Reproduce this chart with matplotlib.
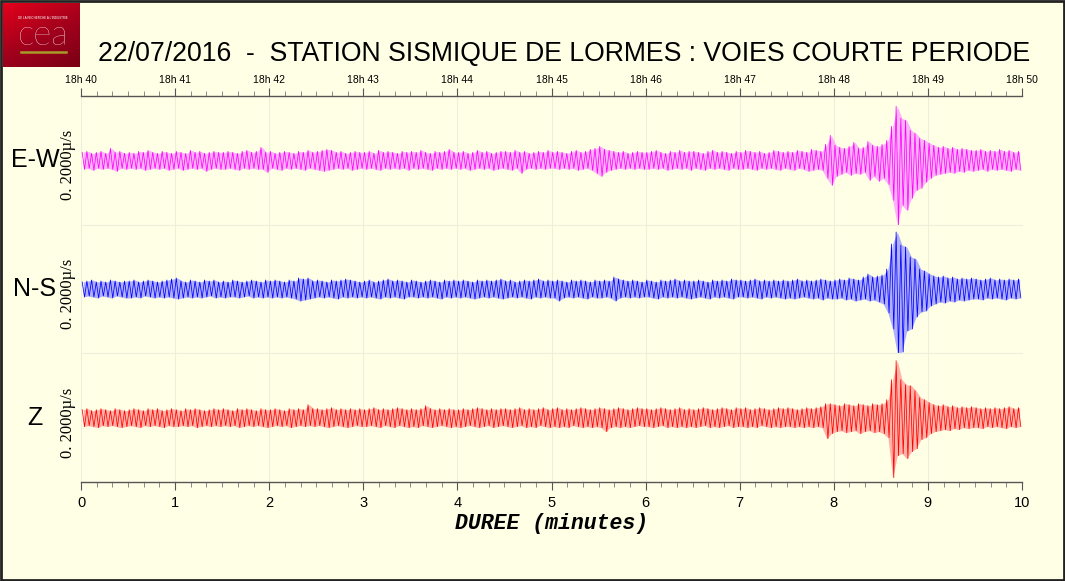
import numpy as np
import matplotlib
matplotlib.use("Agg")
import matplotlib.pyplot as plt
from matplotlib.patches import Rectangle

# ---------------- data ----------------
# Seismogram decimated to min/max per 0.05-minute bin (amplitude units: panel half-height = 64.35)
BIN = 0.05  # minutes
channels = ["E-W", "N-S", "Z"]
colors = ["#FF00FF", "#0000FF", "#FF0000"]
pale_colors = ["#FBB4F7", "#B0B0FA", "#FFB4AA"]
scale_label = "0. 2000µ/s"
top_tick_labels = ["18h 40", "18h 41", "18h 42", "18h 43", "18h 44", "18h 45",
                   "18h 46", "18h 47", "18h 48", "18h 49", "18h 50"]
bottom_ticks = [0, 1, 2, 3, 4, 5, 6, 7, 8, 9, 10]

ew_max = [
    8, 9, 7, 8, 9, 7, 12, 8, 9, 7,
    8, 7, 9, 8, 10, 8, 7, 9, 8, 7,
    9, 8, 7, 10, 8, 9, 7, 8, 9, 8,
    8, 9, 8, 7, 9, 10, 8, 9, 13, 8,
    9, 7, 8, 9, 8, 7, 9, 8, 10, 8,
    9, 10, 11, 10, 8, 9, 7, 8, 9, 8,
    8, 9, 7, 10, 8, 9, 8, 7, 9, 8,
    9, 8, 10, 8, 7, 9, 8, 9, 11, 8,
    8, 9, 7, 8, 10, 8, 9, 7, 8, 9,
    9, 8, 10, 8, 9, 7, 8, 9, 8, 10,
    8, 9, 8, 7, 9, 10, 8, 9, 11, 12,
    14, 11, 10, 9, 8, 9, 7, 8, 9, 8,
    8, 9, 10, 8, 7, 9, 8, 10, 8, 9,
    9, 8, 7, 9, 10, 8, 9, 8, 7, 9,
    8, 10, 9, 8, 9, 7, 8, 10, 9, 8,
    9, 8, 10, 9, 8, 11, 10, 9, 16, 25,
    15, 13, 12, 14, 18, 12, 13, 19, 15, 14,
    16, 20, 34, 54, 42, 40, 30, 27, 22, 20,
    17, 15, 13, 14, 12, 13, 11, 12, 11, 10,
    10, 11, 9, 10, 9, 11, 9, 10, 8, 9,
]
ew_min = [
    9, 8, 10, 8, 9, 8, 9, 11, 8, 9,
    8, 9, 8, 10, 9, 8, 9, 8, 10, 9,
    8, 10, 9, 8, 9, 8, 11, 9, 8, 9,
    9, 8, 9, 10, 8, 9, 8, 9, 9, 12,
    8, 9, 10, 8, 9, 8, 9, 10, 8, 9,
    10, 11, 10, 9, 8, 9, 8, 10, 9, 8,
    9, 8, 9, 10, 8, 9, 8, 9, 8, 10,
    8, 9, 8, 9, 10, 8, 9, 8, 9, 8,
    9, 8, 10, 9, 8, 9, 8, 10, 9, 8,
    9, 10, 8, 13, 9, 8, 9, 8, 9, 8,
    8, 9, 8, 9, 8, 10, 9, 8, 10, 13,
    16, 12, 10, 9, 8, 9, 8, 9, 8, 9,
    9, 8, 9, 8, 10, 9, 8, 9, 8, 10,
    8, 9, 10, 8, 9, 8, 9, 10, 8, 9,
    9, 8, 9, 10, 8, 9, 8, 9, 10, 8,
    9, 10, 8, 9, 11, 10, 9, 10, 18, 25,
    16, 14, 12, 15, 13, 14, 12, 20, 16, 21,
    18, 24, 40, 65, 45, 50, 38, 30, 28, 22,
    18, 15, 14, 13, 12, 13, 11, 12, 10, 11,
    10, 9, 11, 9, 10, 9, 10, 11, 9, 10,
]
ns_max = [
    7, 8, 9, 7, 8, 7, 9, 8, 7, 8,
    8, 9, 7, 8, 9, 8, 7, 8, 9, 10,
    11, 8, 7, 9, 8, 7, 9, 8, 9, 7,
    8, 7, 9, 8, 7, 8, 9, 8, 7, 9,
    8, 9, 8, 7, 9, 8, 11, 10, 11, 8,
    9, 8, 7, 9, 8, 9, 10, 9, 8, 7,
    8, 9, 7, 8, 9, 10, 8, 9, 8, 7,
    9, 8, 7, 8, 9, 8, 7, 9, 8, 9,
    8, 9, 8, 7, 9, 8, 9, 8, 9, 10,
    8, 9, 7, 8, 9, 8, 9, 10, 8, 9,
    8, 9, 8, 7, 9, 8, 9, 8, 7, 9,
    8, 9, 8, 12, 10, 9, 8, 9, 8, 7,
    9, 8, 7, 9, 8, 9, 10, 8, 9, 8,
    8, 9, 8, 7, 9, 8, 9, 8, 10, 9,
    9, 8, 9, 10, 8, 9, 8, 9, 8, 9,
    8, 9, 10, 8, 9, 8, 9, 10, 9, 8,
    9, 10, 9, 11, 10, 9, 12, 15, 12, 13,
    14, 20, 45, 57, 44, 42, 32, 30, 20, 18,
    15, 13, 12, 13, 11, 12, 10, 11, 10, 11,
    10, 9, 10, 11, 9, 10, 9, 10, 9, 10,
]
ns_min = [
    8, 7, 8, 9, 7, 8, 9, 7, 8, 9,
    9, 8, 9, 7, 8, 9, 8, 9, 8, 9,
    10, 9, 8, 9, 8, 9, 8, 7, 9, 8,
    9, 8, 8, 9, 8, 7, 9, 8, 9, 8,
    9, 8, 9, 8, 9, 10, 12, 11, 10, 9,
    8, 9, 8, 9, 10, 8, 9, 8, 9, 8,
    9, 8, 9, 10, 8, 9, 8, 9, 10, 8,
    8, 9, 8, 9, 8, 9, 10, 8, 9, 8,
    9, 8, 9, 10, 9, 8, 9, 8, 9, 10,
    9, 8, 9, 8, 9, 10, 8, 9, 8, 9,
    9, 12, 9, 8, 9, 8, 9, 10, 8, 9,
    9, 8, 9, 12, 9, 8, 9, 8, 9, 8,
    8, 9, 10, 8, 9, 8, 9, 8, 9, 10,
    9, 8, 9, 10, 8, 9, 8, 9, 10, 8,
    8, 9, 8, 9, 10, 8, 9, 8, 9, 10,
    9, 10, 9, 8, 9, 10, 9, 11, 9, 10,
    10, 9, 11, 10, 12, 11, 10, 12, 11, 13,
    15, 24, 40, 65, 63, 42, 40, 28, 23, 22,
    17, 15, 13, 14, 12, 13, 11, 12, 11, 10,
    10, 11, 9, 10, 9, 10, 11, 9, 10, 9,
]
z_max = [
    8, 9, 7, 8, 9, 8, 7, 9, 8, 7,
    8, 9, 8, 7, 9, 8, 9, 7, 8, 9,
    8, 7, 9, 8, 9, 8, 7, 8, 9, 8,
    9, 8, 7, 9, 8, 9, 8, 7, 9, 8,
    8, 9, 8, 7, 9, 8, 9, 8, 13, 9,
    9, 8, 9, 10, 8, 9, 8, 9, 8, 9,
    8, 9, 10, 8, 9, 8, 9, 10, 9, 8,
    9, 8, 9, 12, 9, 8, 9, 8, 9, 8,
    8, 9, 8, 9, 10, 9, 8, 9, 8, 9,
    9, 8, 9, 10, 8, 9, 8, 9, 10, 8,
    9, 10, 8, 9, 8, 9, 10, 9, 8, 9,
    10, 9, 8, 9, 10, 9, 8, 9, 10, 9,
    9, 8, 9, 10, 9, 8, 9, 10, 8, 9,
    8, 9, 10, 9, 8, 9, 10, 9, 8, 10,
    9, 10, 8, 9, 10, 9, 8, 9, 10, 9,
    10, 9, 8, 9, 10, 9, 10, 11, 14, 14,
    13, 12, 14, 13, 12, 14, 13, 12, 14, 13,
    14, 18, 38, 57, 38, 33, 32, 27, 20, 18,
    15, 13, 12, 13, 11, 12, 10, 11, 10, 11,
    10, 9, 10, 9, 10, 9, 10, 11, 9, 10,
]
z_min = [
    9, 8, 9, 10, 8, 9, 8, 9, 10, 9,
    8, 9, 10, 8, 9, 8, 9, 10, 8, 9,
    9, 8, 9, 8, 10, 9, 8, 9, 8, 9,
    8, 9, 8, 10, 9, 8, 9, 8, 9, 10,
    9, 8, 9, 8, 10, 9, 8, 9, 8, 9,
    8, 9, 10, 9, 8, 9, 10, 9, 8, 9,
    9, 8, 9, 10, 8, 9, 10, 8, 9, 10,
    9, 10, 8, 9, 10, 9, 8, 9, 10, 9,
    10, 9, 8, 9, 10, 9, 8, 10, 9, 8,
    9, 10, 9, 8, 10, 9, 10, 8, 9, 10,
    9, 10, 9, 10, 8, 9, 10, 9, 10, 9,
    10, 14, 10, 9, 10, 9, 10, 9, 8, 9,
    9, 10, 9, 8, 10, 9, 10, 9, 10, 9,
    10, 9, 8, 10, 9, 10, 9, 8, 10, 9,
    9, 10, 9, 10, 8, 9, 10, 9, 10, 9,
    9, 10, 9, 10, 9, 10, 9, 10, 21, 16,
    14, 13, 15, 14, 13, 16, 14, 13, 15, 14,
    16, 20, 60, 38, 36, 41, 34, 31, 22, 20,
    16, 14, 13, 12, 13, 11, 12, 10, 11, 10,
    10, 11, 9, 10, 9, 10, 11, 9, 10, 9,
]
series_max = [ew_max, ns_max, z_max]
series_min = [ew_min, ns_min, z_min]

# ---------------- figure ----------------
BG = "#FFFFE6"
W, H = 1065, 581
fig = plt.figure(figsize=(W / 100, H / 100), dpi=100, facecolor=BG)
plt.rcParams["font.family"] = ["Liberation Sans", "DejaVu Sans"]

left, right = 81 / W, 1022 / W
top, bottom = 1 - 96 / H, 1 - 482 / H
ph = (top - bottom) / 3
HALF = 64.35

axes = []
for i in range(3):
    ax = fig.add_axes([left, top - (i + 1) * ph, right - left, ph])
    ax.set_facecolor(BG)
    axes.append(ax)

for i, ax in enumerate(axes):
    up = np.asarray(series_max[i], dtype=float)
    lo = np.asarray(series_min[i], dtype=float)
    n = min(len(up), len(lo))
    up, lo = up[:n], lo[:n]
    t0 = np.arange(n) * BIN
    xs = np.empty(2 * n)
    ys = np.empty(2 * n)
    xs[0::2] = t0 + BIN * 0.25
    xs[1::2] = t0 + BIN * 0.75
    ys[0::2] = up
    ys[1::2] = -lo
    # pale envelope joining the extremes of each bin
    ax.fill_between(t0 + BIN * 0.5, -lo, up, color=pale_colors[i], lw=0, zorder=2)
    # full-colour trace through the extremes
    ax.plot(xs, ys, color=colors[i], lw=0.55, zorder=3)
    ax.set_xlim(0, 10)
    ax.set_ylim(-HALF, HALF)
    ax.set_yticks([])
    ax.grid(axis="x", which="major", color="#EEEEDC", lw=0.8)
    ax.set_axisbelow(True)
    for s in ["left", "right"]:
        ax.spines[s].set_visible(False)
    ax.spines["top"].set_color("#EEEEDC")
    ax.spines["bottom"].set_color("#EEEEDC")
    ax.set_xticks(bottom_ticks)
    ax.set_xticks(np.arange(61) / 6, minor=True)
    ax.tick_params(axis="x", which="both", length=0, labelbottom=False)

    # channel labels
    yc = top - (i + 0.5) * ph
    fig.text(35 / W, yc, channels[i], fontsize=18, ha="center", va="center")
    fig.text(68 / W, yc - 5 / H, scale_label, rotation=90, fontsize=12,
             family=["Liberation Serif", "DejaVu Serif"], ha="center", va="center")

# top axis
ax0 = axes[0]
ax0.spines["top"].set_color("#555555")
ax0.spines["top"].set_linewidth(1.0)
ax0.xaxis.set_ticks_position("top")
ax0.tick_params(axis="x", which="major", length=6, width=0.8, color="#555555",
                labeltop=True, labelbottom=False, labelsize=7.5, pad=2)
ax0.tick_params(axis="x", which="minor", length=3.5, width=0.6, color="#777777")
ax0.set_xticklabels(top_tick_labels)

# bottom axis
ax2 = axes[2]
ax2.spines["bottom"].set_color("#555555")
ax2.spines["bottom"].set_linewidth(1.0)
ax2.xaxis.set_ticks_position("bottom")
ax2.tick_params(axis="x", which="major", length=6, width=0.8, color="#555555",
                labelbottom=True, labelsize=10.5, pad=4)
ax2.tick_params(axis="x", which="minor", length=3.5, width=0.6, color="#777777")
ax2.set_xticklabels([str(v) for v in bottom_ticks])
ax2.set_xlabel("DUREE (minutes)", family=["Liberation Mono", "DejaVu Sans Mono"],
               fontsize=15.5, fontweight="bold", fontstyle="italic", labelpad=2)

# title
fig.text(564 / W, 1 - 54 / H, "22/07/2016  -  STATION SISMIQUE DE LORMES : VOIES COURTE PERIODE",
         fontsize=19.2, ha="center", va="center")

# CEA logo
lax = fig.add_axes([3 / W, 1 - 67 / H, 77 / W, 64 / H])
grad = np.linspace(0, 1, 64)[:, None] * np.ones((1, 77))
grad = grad + np.linspace(0, 0.6, 77)[None, :]
lax.imshow(grad, cmap=matplotlib.colors.LinearSegmentedColormap.from_list(
    "cea", ["#E3001B", "#A4001C", "#7A0015"]), aspect="auto", extent=[0, 1, 0, 1])
lax.text(0.52, 0.5, "cea", color="white", fontsize=25, ha="center", va="center",
         family=["Lato", "DejaVu Sans"], fontweight="light", transform=lax.transAxes)
lax.plot([0.24, 0.82], [0.23, 0.23], color="#A79B2A", lw=1.8, transform=lax.transAxes)
lax.text(0.52, 0.77, "DE LA RECHERCHE A L'INDUSTRIE", color="white", fontsize=2.2,
         ha="center", va="center", transform=lax.transAxes)
lax.set_xlim(0, 1)
lax.set_ylim(0, 1)
lax.axis("off")

# figure border
fig.patches.append(Rectangle((0.001, 0.001), 0.998, 0.997, transform=fig.transFigure,
                             fill=False, edgecolor="#222222", lw=2))

fig.savefig("out.png", dpi=100, facecolor=BG)
